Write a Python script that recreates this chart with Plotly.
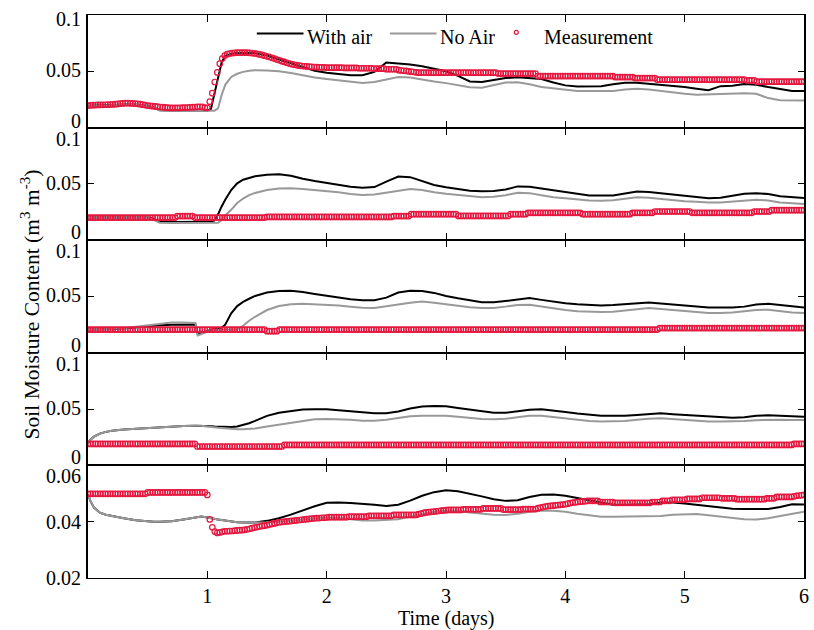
import numpy as np
import plotly.graph_objects as go
from plotly.subplots import make_subplots

# ---- model output time grid (days) ----
T_LINE = [0, 0.02, 0.05, 0.1, 0.15, 0.2, 0.3, 0.4, 0.5, 0.55, 0.6, 0.7, 0.8, 0.9, 0.92, 0.95,
          1.0, 1.03, 1.06, 1.09, 1.12, 1.15, 1.2, 1.25, 1.3, 1.35, 1.4,
          1.5, 1.6, 1.7, 1.8, 1.9, 2.0, 2.1, 2.2, 2.3, 2.4, 2.5, 2.6, 2.7, 2.8, 2.9,
          3.0, 3.1, 3.2, 3.3, 3.4, 3.5, 3.6, 3.7, 3.8, 3.9, 4.0, 4.1, 4.2, 4.3, 4.4,
          4.5, 4.6, 4.7, 4.8, 4.9, 5.0, 5.1, 5.2, 5.3, 5.4, 5.5, 5.6, 5.7, 5.8, 5.9, 6.0]

# ---- depth 1 ----
WITH_AIR_1 = [0.0193, 0.0194, 0.0195, 0.0197, 0.0199, 0.0200, 0.0205, 0.0205, 0.0195, 0.0180, 0.0155,
              0.0152, 0.0152, 0.0152, 0.0152, 0.0152, 0.0152, 0.0165, 0.0300, 0.0460, 0.0580, 0.0635,
              0.0655, 0.0662, 0.0665, 0.0664, 0.0660,
              0.0640, 0.0605, 0.0570, 0.0535, 0.0505, 0.0488, 0.0475, 0.0466, 0.0466, 0.0495, 0.0578,
              0.0572, 0.0560, 0.0545, 0.0525, 0.0500, 0.0460, 0.0410, 0.0405, 0.0420, 0.0440, 0.0448,
              0.0442, 0.0432, 0.0400, 0.0375, 0.0366, 0.0366, 0.0368, 0.0385, 0.0398, 0.0398, 0.0390,
              0.0382, 0.0372, 0.0360, 0.0345, 0.0332, 0.0368, 0.0372, 0.0388, 0.0380, 0.0360, 0.0340,
              0.0326, 0.0324]
NO_AIR_1 = [0.0190, 0.0191, 0.0192, 0.0194, 0.0196, 0.0198, 0.0202, 0.0202, 0.0192, 0.0175, 0.0153,
            0.0150, 0.0150, 0.0150, 0.0150, 0.0150, 0.0150, 0.0150, 0.0150, 0.0170, 0.0290, 0.0380,
            0.0450, 0.0478, 0.0495, 0.0505, 0.0509,
            0.0508, 0.0500, 0.0485, 0.0465, 0.0445, 0.0432, 0.0420, 0.0405, 0.0396, 0.0405, 0.0430,
            0.0449, 0.0445, 0.0425, 0.0410, 0.0395, 0.0375, 0.0358, 0.0355, 0.0378, 0.0400, 0.0402,
            0.0385, 0.0360, 0.0350, 0.0338, 0.0326, 0.0324, 0.0324, 0.0326, 0.0338, 0.0345, 0.0338,
            0.0325, 0.0310, 0.0300, 0.0292, 0.0295, 0.0300, 0.0303, 0.0306, 0.0300, 0.0262, 0.0244,
            0.0242, 0.0241]

# ---- depth 2 ----
WITH_AIR_2 = [0.0201, 0.0201, 0.0201, 0.0201, 0.0201, 0.0201, 0.0201, 0.0201, 0.0201, 0.0190, 0.0165,
              0.0162, 0.0162, 0.0162, 0.0162, 0.0162, 0.0163, 0.0163, 0.0175, 0.0230, 0.0300, 0.0360,
              0.0445, 0.0505, 0.0537, 0.0555, 0.0568,
              0.0582, 0.0585, 0.0572, 0.0545, 0.0525, 0.0508, 0.0495, 0.0475, 0.0466, 0.0472, 0.0520,
              0.0565, 0.0560, 0.0522, 0.0490, 0.0470, 0.0455, 0.0440, 0.0435, 0.0437, 0.0450, 0.0478,
              0.0475, 0.0460, 0.0440, 0.0425, 0.0410, 0.0398, 0.0396, 0.0398, 0.0415, 0.0432, 0.0428,
              0.0418, 0.0405, 0.0395, 0.0387, 0.0372, 0.0378, 0.0395, 0.0412, 0.0417, 0.0410, 0.0390,
              0.0380, 0.0375]
NO_AIR_2 = [0.0199, 0.0199, 0.0199, 0.0199, 0.0199, 0.0199, 0.0199, 0.0199, 0.0199, 0.0180, 0.0155,
            0.0153, 0.0153, 0.0153, 0.0153, 0.0153, 0.0153, 0.0153, 0.0153, 0.0155, 0.0180, 0.0220,
            0.0270, 0.0330, 0.0370, 0.0400, 0.0420,
            0.0445, 0.0460, 0.0462, 0.0455, 0.0447, 0.0438, 0.0425, 0.0410, 0.0402, 0.0405, 0.0420,
            0.0435, 0.0455, 0.0445, 0.0425, 0.0412, 0.0400, 0.0388, 0.0381, 0.0385, 0.0400, 0.0422,
            0.0418, 0.0400, 0.0382, 0.0372, 0.0362, 0.0353, 0.0351, 0.0355, 0.0368, 0.0381, 0.0378,
            0.0368, 0.0355, 0.0345, 0.0342, 0.0335, 0.0335, 0.0345, 0.0355, 0.0360, 0.0352, 0.0335,
            0.0328, 0.0321]

# ---- depth 3 ----
WITH_AIR_3 = [0.0206, 0.0206, 0.0206, 0.0207, 0.0208, 0.0210, 0.0215, 0.0225, 0.0238, 0.0242, 0.0245,
              0.0250, 0.0252, 0.0252, 0.0160, 0.0170, 0.0192, 0.0205, 0.0210, 0.0215, 0.0222, 0.0250,
              0.0350, 0.0415, 0.0452, 0.0480, 0.0505,
              0.0535, 0.0548, 0.0550, 0.0540, 0.0522, 0.0505, 0.0488, 0.0475, 0.0466, 0.0466, 0.0490,
              0.0535, 0.0550, 0.0548, 0.0532, 0.0505, 0.0485, 0.0465, 0.0450, 0.0448, 0.0460, 0.0478,
              0.0486, 0.0470, 0.0455, 0.0440, 0.0432, 0.0425, 0.0421, 0.0425, 0.0432, 0.0440, 0.0447,
              0.0438, 0.0430, 0.0420, 0.0408, 0.0403, 0.0403, 0.0403, 0.0410, 0.0428, 0.0436, 0.0425,
              0.0410, 0.0403]
NO_AIR_3 = [0.0206, 0.0206, 0.0207, 0.0208, 0.0210, 0.0213, 0.0218, 0.0232, 0.0246, 0.0255, 0.0262,
            0.0270, 0.0268, 0.0265, 0.0155, 0.0168, 0.0190, 0.0198, 0.0202, 0.0205, 0.0206, 0.0206,
            0.0206, 0.0208, 0.0240, 0.0285, 0.0320,
            0.0380, 0.0415, 0.0432, 0.0435, 0.0432, 0.0428, 0.0420, 0.0410, 0.0400, 0.0397, 0.0410,
            0.0428, 0.0445, 0.0456, 0.0445, 0.0430, 0.0418, 0.0405, 0.0397, 0.0398, 0.0410, 0.0425,
            0.0427, 0.0410, 0.0395, 0.0380, 0.0370, 0.0365, 0.0362, 0.0365, 0.0375, 0.0390, 0.0397,
            0.0390, 0.0380, 0.0368, 0.0358, 0.0353, 0.0353, 0.0358, 0.0370, 0.0380, 0.0383, 0.0370,
            0.0358, 0.0353]

# ---- depth 4 ----
WITH_AIR_4 = [0.0195, 0.0228, 0.0255, 0.0282, 0.0298, 0.0308, 0.0318, 0.0325, 0.0332, 0.0335, 0.0342,
              0.0348, 0.0350, 0.0352, 0.0352, 0.0352, 0.0350, 0.0348, 0.0345, 0.0343, 0.0342, 0.0342,
              0.0342, 0.0345, 0.0358, 0.0375, 0.0395,
              0.0440, 0.0468, 0.0485, 0.0496, 0.0498, 0.0498, 0.0490, 0.0480, 0.0468, 0.0463, 0.0463,
              0.0478, 0.0505, 0.0522, 0.0528, 0.0525, 0.0510, 0.0495, 0.0480, 0.0468, 0.0468, 0.0482,
              0.0495, 0.0498, 0.0488, 0.0475, 0.0460, 0.0448, 0.0440, 0.0440, 0.0440, 0.0448, 0.0458,
              0.0463, 0.0455, 0.0448, 0.0440, 0.0432, 0.0425, 0.0424, 0.0428, 0.0440, 0.0445, 0.0440,
              0.0435, 0.0433]
NO_AIR_4 = [0.0195, 0.0228, 0.0255, 0.0282, 0.0298, 0.0308, 0.0318, 0.0325, 0.0332, 0.0335, 0.0342,
            0.0348, 0.0350, 0.0352, 0.0352, 0.0352, 0.0345, 0.0340, 0.0337, 0.0335, 0.0333, 0.0330,
            0.0325, 0.0322, 0.0322, 0.0324, 0.0328,
            0.0345, 0.0362, 0.0380, 0.0398, 0.0410, 0.0412, 0.0410, 0.0405, 0.0397, 0.0396, 0.0405,
            0.0420, 0.0437, 0.0442, 0.0442, 0.0440, 0.0432, 0.0422, 0.0412, 0.0410, 0.0415, 0.0428,
            0.0440, 0.0440, 0.0428, 0.0415, 0.0402, 0.0395, 0.0390, 0.0390, 0.0395, 0.0405, 0.0415,
            0.0418, 0.0410, 0.0402, 0.0395, 0.0390, 0.0390, 0.0390, 0.0395, 0.0402, 0.0405, 0.0405,
            0.0404, 0.0404]

# ---- depth 5 ----
WITH_AIR_5 = [0.0497, 0.0474, 0.0450, 0.0432, 0.0425, 0.0420, 0.0412, 0.0405, 0.0400, 0.0400, 0.0400,
              0.0402, 0.0408, 0.0416, 0.0418, 0.0418, 0.0415, 0.0412, 0.0410, 0.0408, 0.0406, 0.0404,
              0.0400, 0.0398, 0.0397, 0.0397, 0.0397,
              0.0403, 0.0412, 0.0425, 0.0440, 0.0455, 0.0467, 0.0468, 0.0466, 0.0464, 0.0460, 0.0456,
              0.0460, 0.0475, 0.0492, 0.0505, 0.0512, 0.0508, 0.0500, 0.0490, 0.0480, 0.0474, 0.0476,
              0.0488, 0.0496, 0.0497, 0.0492, 0.0484, 0.0475, 0.0466, 0.0460, 0.0460, 0.0460, 0.0462,
              0.0468, 0.0468, 0.0465, 0.0460, 0.0456, 0.0452, 0.0446, 0.0445, 0.0445, 0.0445, 0.0452,
              0.0462, 0.0461]
NO_AIR_5 = [0.0497, 0.0474, 0.0450, 0.0432, 0.0425, 0.0420, 0.0412, 0.0405, 0.0400, 0.0400, 0.0400,
            0.0402, 0.0408, 0.0416, 0.0418, 0.0418, 0.0415, 0.0412, 0.0410, 0.0408, 0.0406, 0.0404,
            0.0400, 0.0398, 0.0397, 0.0397, 0.0397,
            0.0398, 0.0400, 0.0403, 0.0408, 0.0412, 0.0415, 0.0413, 0.0408, 0.0404, 0.0404, 0.0406,
            0.0409, 0.0418, 0.0427, 0.0435, 0.0439, 0.0438, 0.0433, 0.0428, 0.0425, 0.0424, 0.0428,
            0.0435, 0.0439, 0.0439, 0.0435, 0.0428, 0.0422, 0.0418, 0.0418, 0.0418, 0.0418, 0.0418,
            0.0420, 0.0425, 0.0427, 0.0427, 0.0423, 0.0418, 0.0412, 0.0409, 0.0408, 0.0412, 0.0420,
            0.0427, 0.0435]

# ---- sensor readings, logged every 30 minutes ----
MEAS_STEP_DAYS = 1 / 48

MEAS_1 = ([0.0196, 0.0198, 0.0199, 0.0200, 0.0201, 0.0202, 0.0202, 0.0203, 0.0204, 0.0205, 0.0206,
           0.0208, 0.0210,
           0.0213, 0.0215, 0.0217, 0.0217, 0.0216, 0.0215, 0.0213, 0.0211, 0.0208, 0.0204, 0.0200,
           0.0196,
           0.0193, 0.0190, 0.0188, 0.0186, 0.0183, 0.0181, 0.0179, 0.0177, 0.0176, 0.0176, 0.0176,
           0.0176, 0.0176, 0.0177, 0.0178, 0.0178, 0.0180, 0.0181, 0.0182, 0.0184, 0.0185, 0.0184,
           0.0178,
           0.0176,
           0.0230, 0.0306, 0.0405, 0.0490, 0.0568, 0.0613, 0.0640, 0.0652, 0.0658, 0.0662,
           0.0664, 0.0665, 0.0666, 0.0666, 0.0666, 0.0665, 0.0664, 0.0662, 0.0659, 0.0655, 0.0650,
           0.0645, 0.0639, 0.0633,
           0.0627, 0.0620, 0.0613, 0.0605, 0.0598, 0.0590, 0.0583, 0.0576, 0.0569, 0.0563, 0.0558,
           0.0554, 0.0550, 0.0547, 0.0545, 0.0543, 0.0541, 0.0539, 0.0538, 0.0537, 0.0536, 0.0535,
           0.0534, 0.0533]
          + [0.0532] * 6 + [0.0530] * 6 + [0.0527] * 6 + [0.0523] * 5 + [0.0518] * 5
          + [0.0510, 0.0507, 0.0505, 0.0503, 0.0500, 0.0497, 0.0494, 0.0491]
          + [0.0488] * 32 + [0.0480] * 16 + [0.0458] * 31 + [0.0449] * 8 + [0.0440] * 9
          + [0.0426] * 36 + [0.0420] * 4 + [0.0408] * 20)

MEAS_2 = ([0.0201] * 36 + [0.0214] * 7 + [0.0201] * 29 + [0.0207] * 51 + [0.0214] * 7
          + [0.0231] * 19 + [0.0216] * 21 + [0.0231] * 7 + [0.0243] * 22 + [0.0231] * 20
          + [0.0243] * 9 + [0.0255] * 15 + [0.0243] * 25 + [0.0255] * 7 + [0.0267] * 14)

MEAS_3 = [0.0206] * 72 + [0.0192] * 5 + [0.0206] * 153 + [0.0220] * 59

MEAS_4 = [0.0191] * 44 + [0.0168] * 35 + [0.0182] * 205 + [0.0191] * 5

MEAS_5 = ([0.0499] * 24 + [0.0504] * 24 + [0.0495]
          + [0.0408, 0.0380, 0.0365, 0.0360, 0.0362, 0.0364, 0.0366, 0.0366, 0.0367, 0.0367,
             0.0368, 0.0369, 0.0370, 0.0370, 0.0371]
          + [0.0373, 0.0375, 0.0377, 0.0379, 0.0381, 0.0383, 0.0385, 0.0386]
          + [0.0388, 0.0390, 0.0392, 0.0394, 0.0396, 0.0398, 0.0399, 0.0400, 0.0401, 0.0402,
             0.0403, 0.0404, 0.0405]
          + [0.0406, 0.0407, 0.0408, 0.0409, 0.0410, 0.0411, 0.0412, 0.0413, 0.0413, 0.0414,
             0.0414, 0.0415]
          + [0.0416] * 8 + [0.0418] * 8 + [0.0421] * 10 + [0.0424] * 10
          + [0.0427, 0.0429, 0.0431, 0.0433, 0.0434, 0.0435, 0.0436, 0.0437, 0.0438, 0.0439,
             0.0440, 0.0441]
          + [0.0442] * 6 + [0.0444] * 8 + [0.0447] * 8
          + [0.0443] * 8 + [0.0445] * 6
          + [0.0448, 0.0450, 0.0452, 0.0454, 0.0455, 0.0456, 0.0457, 0.0458, 0.0459, 0.0460,
             0.0461, 0.0462]
          + [0.0464, 0.0466, 0.0468, 0.0469, 0.0470, 0.0471, 0.0472, 0.0473, 0.0474, 0.0474,
             0.0474, 0.0474, 0.0474]
          + [0.0470] * 6 + [0.0467] * 15
          + [0.0470] * 4 + [0.0474] * 4 + [0.0478] * 6
          + [0.0481] * 6 + [0.0485] * 8
          + [0.0483] * 6 + [0.0480] * 12
          + [0.0483] * 4 + [0.0488] * 7
          + [0.0490, 0.0492, 0.0493, 0.0494, 0.0495])

WITH_AIR = [WITH_AIR_1, WITH_AIR_2, WITH_AIR_3, WITH_AIR_4, WITH_AIR_5]
NO_AIR = [NO_AIR_1, NO_AIR_2, NO_AIR_3, NO_AIR_4, NO_AIR_5]
MEAS = [MEAS_1, MEAS_2, MEAS_3, MEAS_4, MEAS_5]

for k in range(5):
    if len(WITH_AIR[k]) != len(T_LINE) or len(NO_AIR[k]) != len(T_LINE):
        raise ValueError(f"panel {k + 1}: {len(WITH_AIR[k])} {len(NO_AIR[k])} vs {len(T_LINE)}")
    if len(MEAS[k]) != 289:
        raise ValueError(f"measurement {k + 1}: {len(MEAS[k])}")

T_MEAS = np.arange(289) * MEAS_STEP_DAYS

Y_RANGES = [[0, 0.1]] * 4 + [[0.02, 0.06]]
Y_TICKS = [[0, 0.05, 0.1]] * 4 + [[0.02, 0.04, 0.06]]
Y_TICK_TEXT = [["0", "0.05", "0.1"]] * 4 + [["0.02", "0.04", "0.06"]]
X_TICKS = [1, 2, 3, 4, 5, 6]
SERIES_NAMES = ["With air", "No Air", "Measurement"]

FONT = "'Liberation Serif', 'Times New Roman', 'DejaVu Serif', serif"
FSIZE = 20
BLACK = "#000000"
GRAY = "#999999"
RED = "#e5173f"

fig = make_subplots(rows=5, cols=1, shared_xaxes=True, vertical_spacing=0)

for k in range(5):
    row = k + 1
    fig.add_trace(go.Scatter(x=T_LINE, y=WITH_AIR[k], mode="lines", name=SERIES_NAMES[0],
                             line=dict(color=BLACK, width=2), showlegend=False),
                  row=row, col=1)
    fig.add_trace(go.Scatter(x=T_LINE, y=NO_AIR[k], mode="lines", name=SERIES_NAMES[1],
                             line=dict(color=GRAY, width=2), showlegend=False),
                  row=row, col=1)
    fig.add_trace(go.Scatter(x=T_MEAS, y=MEAS[k], mode="markers", name=SERIES_NAMES[2],
                             marker=dict(symbol="circle-open", size=5.5, color=RED,
                                         line=dict(width=1.2, color=RED)),
                             showlegend=False),
                  row=row, col=1)

    fig.update_yaxes(range=Y_RANGES[k], tickvals=Y_TICKS[k], showticklabels=False,
                     ticks="inside", ticklen=6, tickwidth=1.3, tickcolor=BLACK,
                     showline=True, linecolor=BLACK, linewidth=1.5, mirror="ticks",
                     showgrid=False, zeroline=False, row=row, col=1)
    fig.update_xaxes(range=[0, 6], tickvals=X_TICKS, ticks="inside", ticklen=7,
                     tickwidth=1.3, tickcolor=BLACK, showline=True, linecolor=BLACK,
                     linewidth=1, mirror="ticks", showgrid=False, zeroline=False,
                     tickfont=dict(family=FONT, size=FSIZE, color=BLACK),
                     row=row, col=1)

# y tick labels, nudged so neighbouring panels' labels stay apart
LABEL_SHIFT = [[7, 1, -4], [8, 1, -11], [8, 1, -11], [8, 1, -11], [0, 0, -11]]
annotations = []
for k in range(5):
    yref = "y" if k == 0 else f"y{k + 1}"
    for val, txt, dy in zip(Y_TICKS[k], Y_TICK_TEXT[k], LABEL_SHIFT[k]):
        annotations.append(dict(x=0, xref="paper", xanchor="right", xshift=-5,
                                y=val, yref=yref, yanchor="middle", yshift=dy,
                                text=txt, showarrow=False,
                                font=dict(family=FONT, size=FSIZE, color=BLACK)))

annotations.append(dict(x=-0.081, xref="paper", y=0.486, yref="paper",
                        text="Soil Moisture Content (m<sup>3</sup> m<sup>-3</sup>)",
                        textangle=-90, showarrow=False, xanchor="center", yanchor="middle",
                        font=dict(family=FONT, size=21.5, color=BLACK)))
annotations.append(dict(x=0.5, xref="paper", y=-0.0728, yref="paper", text="Time (days)",
                        showarrow=False, xanchor="center", yanchor="middle",
                        font=dict(family=FONT, size=FSIZE, color=BLACK)))

# legend row inside the top panel (positions in pixels from the plot's left edge)
PLOT_LEFT, PLOT_W = 88, 721
PLOT_TOP, PLOT_H = 15, 563


def px_x(p):
    return (p - PLOT_LEFT) / PLOT_W


def px_y(p):
    return 1 - (p - PLOT_TOP) / PLOT_H


shapes = [
    dict(type="line", xref="paper", yref="paper", x0=px_x(258), x1=px_x(305),
         y0=px_y(33.5), y1=px_y(33.5), line=dict(color=BLACK, width=2)),
    dict(type="line", xref="paper", yref="paper", x0=px_x(392), x1=px_x(439),
         y0=px_y(33.5), y1=px_y(33.5), line=dict(color=GRAY, width=2)),
    dict(type="circle", xref="paper", yref="paper", x0=px_x(517.3), x1=px_x(521.3),
         y0=px_y(34.3), y1=px_y(30.3), line=dict(color=RED, width=1.2)),
]
for name, left in zip(SERIES_NAMES, [309, 442, 547]):
    annotations.append(dict(x=px_x(left), xref="paper", y=px_y(37), yref="paper",
                            text=name, showarrow=False, xanchor="left", yanchor="middle",
                            xshift=-2, font=dict(family=FONT, size=FSIZE, color=BLACK)))

fig.update_layout(
    width=814, height=630,
    margin=dict(l=88, r=5, t=15, b=52),
    plot_bgcolor="white", paper_bgcolor="white",
    font=dict(family=FONT, size=FSIZE, color=BLACK),
    showlegend=False,
    annotations=annotations,
    shapes=shapes,
)

fig.write_html("out.html")
